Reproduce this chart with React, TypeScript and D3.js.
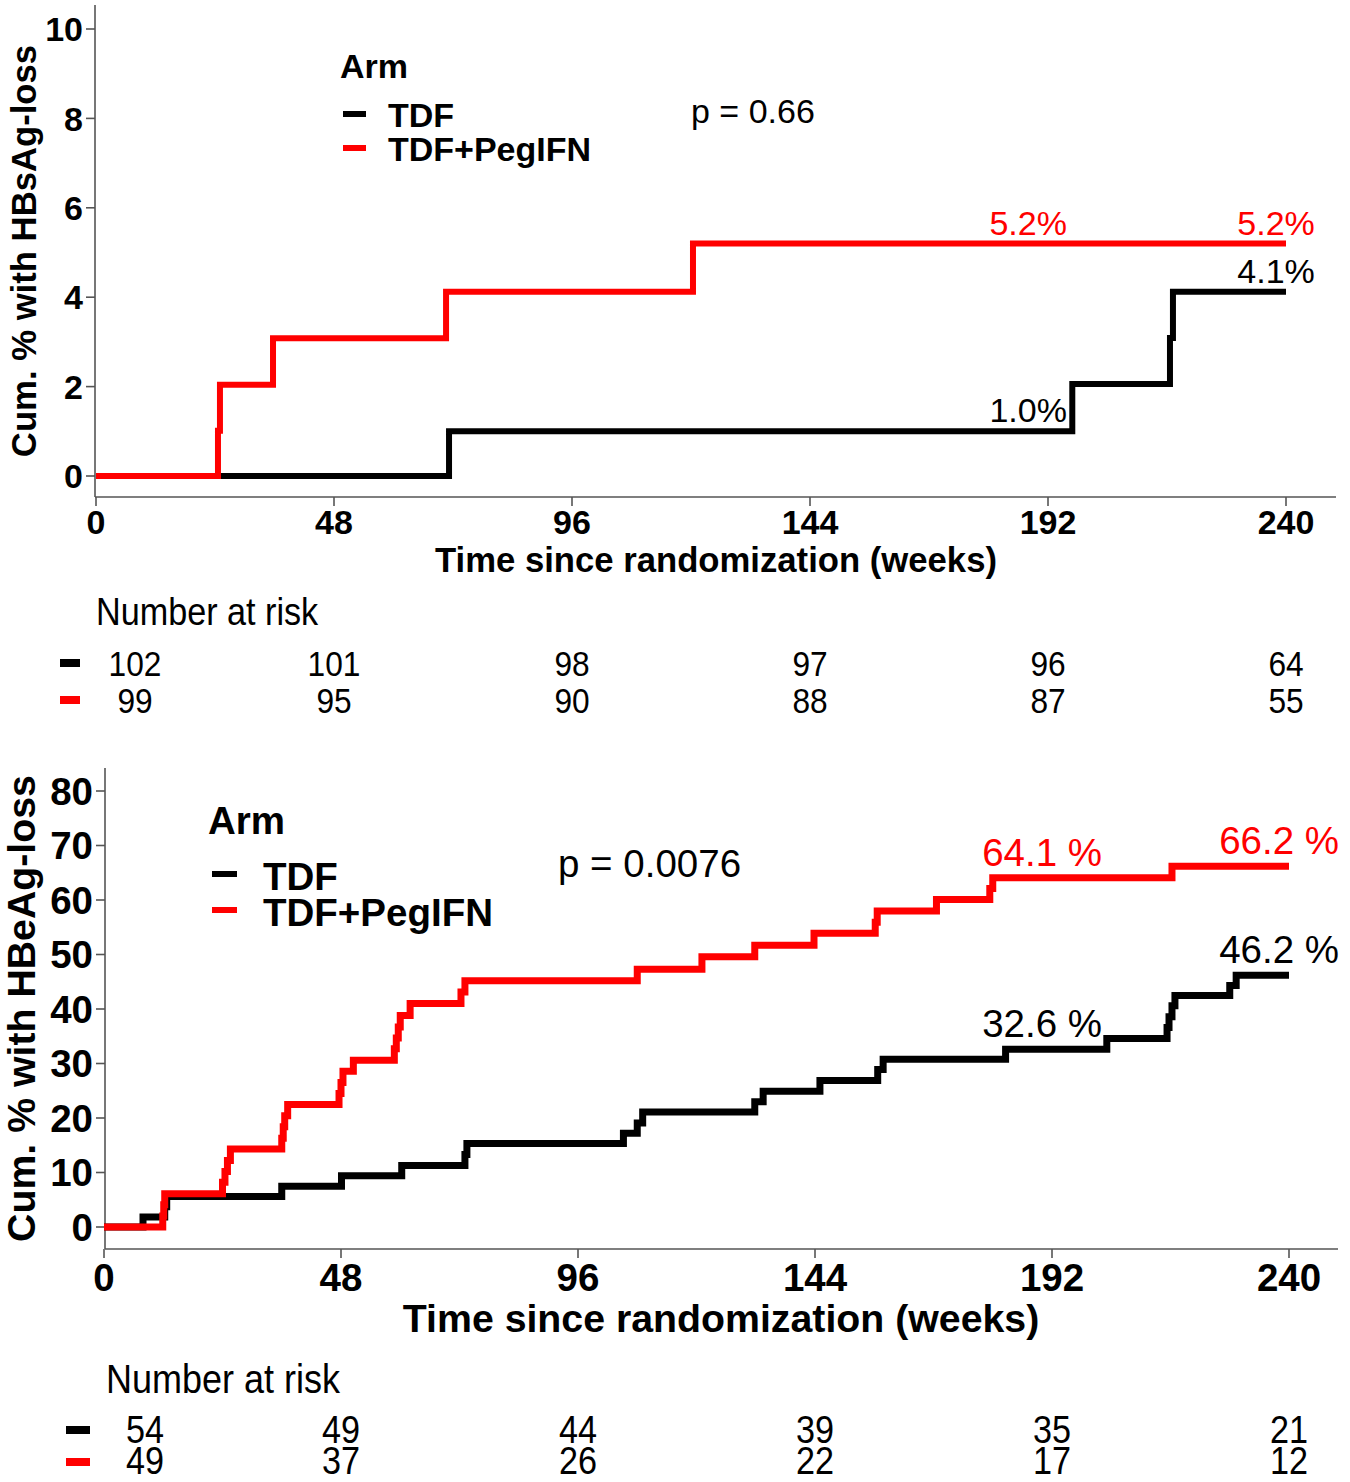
import React from "react";
import * as d3 from "d3";

// week marks shared by both panels and the risk tables
const weeks = [0, 48, 96, 144, 192, 240];

// panel A: HBsAg loss (cumulative %)
const sTicks = [0, 2, 4, 6, 8, 10];
const sTdf: [number, number][] = [
  [0, 0], [71.2, 1.0], [196.9, 2.06], [216.6, 3.09], [217.2, 4.12], [240, 4.12],
];
const sPeg: [number, number][] = [
  [0, 0], [24.6, 1.01], [25.0, 2.04], [35.7, 3.08], [70.6, 4.12], [120.4, 5.2], [240, 5.2],
];
const sRiskTdf = [102, 101, 98, 97, 96, 64];
const sRiskPeg = [99, 95, 90, 88, 87, 55];
const sLabelTimes = [188, 238];
const sLabelsTdf = ["1.0%", "4.1%"];
const sLabelValsTdf = [1.0, 4.12];
const sLabelsPeg = ["5.2%", "5.2%"];
const sLabelValsPeg = [5.2, 5.2];

// panel B: HBeAg loss (cumulative %)
const eTicks = [0, 10, 20, 30, 40, 50, 60, 70, 80];
const eTdf: [number, number][] = [
  [0, 0], [7.9, 1.85], [12.3, 3.7], [12.7, 5.6], [36.0, 7.5], [48.1, 9.4],
  [60.3, 11.3], [73.1, 13.3], [73.5, 15.3], [105.2, 17.2], [108.0, 19.1],
  [109.1, 21.1], [131.8, 23.0], [133.5, 24.9], [145.0, 26.9], [156.7, 28.9],
  [157.8, 30.8], [182.6, 32.6], [203.1, 34.6], [215.3, 36.6], [215.7, 38.6],
  [216.3, 40.6], [216.9, 42.5], [228.0, 44.3], [229.3, 46.2], [240, 46.2],
];
const ePeg: [number, number][] = [
  [0, 0], [11.9, 2.0], [12.1, 4.1], [12.3, 6.1], [24.0, 8.2], [24.5, 10.2],
  [25.0, 12.2], [25.6, 14.3], [36.0, 16.3], [36.3, 18.4], [36.6, 20.4],
  [37.2, 22.5], [47.6, 24.5], [48.0, 26.5], [48.4, 28.6], [50.5, 30.6],
  [58.8, 32.7], [59.2, 34.7], [59.6, 36.7], [60.0, 38.8], [62.0, 41.0],
  [72.3, 43.1], [73.1, 45.2], [108.0, 47.3], [121.1, 49.6], [131.8, 51.7],
  [143.8, 53.9], [156.2, 55.9], [156.6, 58.0], [168.6, 60.1], [179.4, 62.1],
  [180.0, 64.1], [216.3, 66.2], [240, 66.2],
];
const eRiskTdf = [54, 49, 44, 39, 35, 21];
const eRiskPeg = [49, 37, 26, 22, 17, 12];
const eLabelTimes = [190, 238];
const eLabelsTdf = ["32.6 %", "46.2 %"];
const eLabelValsTdf = [32.6, 46.2];
const eLabelsPeg = ["64.1 %", "66.2 %"];
const eLabelValsPeg = [64.1, 66.2];

const FONT = "Liberation Sans, Arial, sans-serif";
const AXIS = "#555";
const armColors = ["#000000", "#ff0000"];
const armNames = ["TDF", "TDF+PegIFN"];

type Layout = {
  x0: number; x1: number; y0: number; y1: number; yMax: number;
  axisX: number; axisTop: number; axisY: number; axisRight: number;
  fs: number; stroke: number; yTitle: string; yTitleX: number;
  xTickBase: number; xTitleBase: number;
  legX: number; legDash: number[]; legTextX: number; armBase: number;
  legY: number[]; legBase: number[]; pText: string; pX: number; pBase: number;
  labelDy: number; riskTitleX: number; riskTitleBase: number; riskTitleFs: number;
  riskFs: number; riskScale: number; riskBase: number[]; riskDash: number[];
  riskDashY: number[]; firstShift: number;
};

function Panel({ L, ticks, tdf, peg, riskTdf, riskPeg, labelTimes, labTdf, labValTdf, labPeg, labValPeg }: any) {
  const lay: Layout = L;
  const x = d3.scaleLinear().domain([0, 240]).range([lay.x0, lay.x1]);
  const y = d3.scaleLinear().domain([0, lay.yMax]).range([lay.y0, lay.y1]);
  const line = d3.line<[number, number]>()
    .x((d) => x(d[0]))
    .y((d) => y(d[1]))
    .curve(d3.curveStepAfter);
  const fs = lay.fs;
  const labels = [
    { texts: labTdf, vals: labValTdf, c: armColors[0] },
    { texts: labPeg, vals: labValPeg, c: armColors[1] },
  ];
  const risks = [riskTdf, riskPeg];

  return (
    <g fontFamily={FONT}>
      {/* axes */}
      <line x1={lay.axisX} x2={lay.axisX} y1={lay.axisTop} y2={lay.axisY} stroke={AXIS} strokeWidth={1.6} />
      <line x1={lay.axisX} x2={lay.axisRight} y1={lay.axisY} y2={lay.axisY} stroke={AXIS} strokeWidth={1.6} />
      {ticks.map((t: number) => (
        <g key={"y" + t}>
          <line x1={lay.axisX - 9} x2={lay.axisX} y1={y(t)} y2={y(t)} stroke={AXIS} strokeWidth={1.6} />
          <text x={lay.axisX - 12} y={y(t) + fs * 0.36} textAnchor="end" fontSize={fs} fontWeight="bold">{t}</text>
        </g>
      ))}
      {weeks.map((w) => (
        <g key={"x" + w}>
          <line x1={x(w)} x2={x(w)} y1={lay.axisY} y2={lay.axisY + 9} stroke={AXIS} strokeWidth={1.6} />
          <text x={x(w)} y={lay.xTickBase} textAnchor="middle" fontSize={fs} fontWeight="bold">{w}</text>
        </g>
      ))}
      <text x={(lay.x0 + lay.axisRight) / 2} y={lay.xTitleBase} textAnchor="middle" fontSize={fs * 1.02} fontWeight="bold">
        Time since randomization (weeks)
      </text>
      <text transform={`translate(${lay.yTitleX},${(lay.axisTop + lay.axisY) / 2}) rotate(-90)`} textAnchor="middle" fontSize={fs * 1.02} fontWeight="bold">
        {lay.yTitle}
      </text>

      {/* curves: TDF first, red on top */}
      <path d={line(tdf) || ""} fill="none" stroke={armColors[0]} strokeWidth={lay.stroke} />
      <path d={line(peg) || ""} fill="none" stroke={armColors[1]} strokeWidth={lay.stroke} />

      {labels.map((g, gi) =>
        g.texts.map((s: string, i: number) => (
          <text key={gi + "-" + i} x={x(labelTimes[i])} y={y(g.vals[i]) - lay.labelDy} textAnchor="middle" fontSize={fs} fill={g.c}>
            {s}
          </text>
        ))
      )}

      {/* legend */}
      <text x={lay.legX} y={lay.armBase} fontSize={fs} fontWeight="bold">Arm</text>
      {armNames.map((n, i) => (
        <g key={n}>
          <line x1={lay.legDash[0]} x2={lay.legDash[1]} y1={lay.legY[i]} y2={lay.legY[i]} stroke={armColors[i]} strokeWidth={6} />
          <text x={lay.legTextX} y={lay.legBase[i]} fontSize={fs} fontWeight="bold">{n}</text>
        </g>
      ))}
      <text x={lay.pX} y={lay.pBase} fontSize={fs}>{lay.pText}</text>

      {/* number at risk */}
      <text transform={`translate(${lay.x0 + lay.riskTitleX},${lay.riskTitleBase}) scale(0.9,1)`} fontSize={lay.riskTitleFs}>
        Number at risk
      </text>
      {risks.map((row: number[], ri: number) => (
        <g key={"r" + ri}>
          <rect x={lay.riskDash[0]} width={lay.riskDash[1] - lay.riskDash[0]} y={lay.riskDashY[ri] - 4} height={8} fill={armColors[ri]} />
          {row.map((v, i) => (
            <text key={i} transform={`translate(${x(weeks[i]) + (i === 0 ? lay.firstShift : 0)},${lay.riskBase[ri]}) scale(${lay.riskScale},1)`} textAnchor="middle" fontSize={lay.riskFs}>
              {v}
            </text>
          ))}
        </g>
      ))}
    </g>
  );
}

const topLayout: Layout = {
  x0: 96, x1: 1286, y0: 476, y1: 29, yMax: 10,
  axisX: 95, axisTop: 5, axisY: 497, axisRight: 1336,
  fs: 34, stroke: 6, yTitle: "Cum. % with HBsAg-loss", yTitleX: 36,
  xTickBase: 534, xTitleBase: 572,
  legX: 340, legDash: [343, 366], legTextX: 388, armBase: 78,
  legY: [114, 148], legBase: [127, 161], pText: "p = 0.66", pX: 691, pBase: 123,
  labelDy: 9, riskTitleX: 0, riskTitleBase: 625, riskTitleFs: 38,
  riskFs: 36, riskScale: 0.88, riskBase: [676, 713], riskDash: [60, 80],
  riskDashY: [663, 700], firstShift: 39,
};

const botLayout: Layout = {
  x0: 104, x1: 1289, y0: 1227, y1: 791, yMax: 80,
  axisX: 105, axisTop: 768, axisY: 1249, axisRight: 1338,
  fs: 38.5, stroke: 7, yTitle: "Cum. % with HBeAg-loss", yTitleX: 35,
  xTickBase: 1291, xTitleBase: 1332,
  legX: 208, legDash: [212, 237], legTextX: 263, armBase: 834,
  legY: [874, 910], legBase: [890, 926], pText: "p = 0.0076", pX: 558, pBase: 877,
  labelDy: 12, riskTitleX: 2, riskTitleBase: 1393, riskTitleFs: 40,
  riskFs: 38, riskScale: 0.9, riskBase: [1443, 1474], riskDash: [66, 90],
  riskDashY: [1430, 1462], firstShift: 41,
};

export default function App() {
  return (
    <svg width={1350} height={1482} style={{ position: "absolute", left: 0, top: 0, background: "#fff" }}>
      <rect width={1350} height={1482} fill="#fff" />
      <Panel L={topLayout} ticks={sTicks} tdf={sTdf} peg={sPeg} riskTdf={sRiskTdf} riskPeg={sRiskPeg}
        labelTimes={sLabelTimes} labTdf={sLabelsTdf} labValTdf={sLabelValsTdf} labPeg={sLabelsPeg} labValPeg={sLabelValsPeg} />
      <Panel L={botLayout} ticks={eTicks} tdf={eTdf} peg={ePeg} riskTdf={eRiskTdf} riskPeg={eRiskPeg}
        labelTimes={eLabelTimes} labTdf={eLabelsTdf} labValTdf={eLabelValsTdf} labPeg={eLabelsPeg} labValPeg={eLabelValsPeg} />
    </svg>
  );
}
